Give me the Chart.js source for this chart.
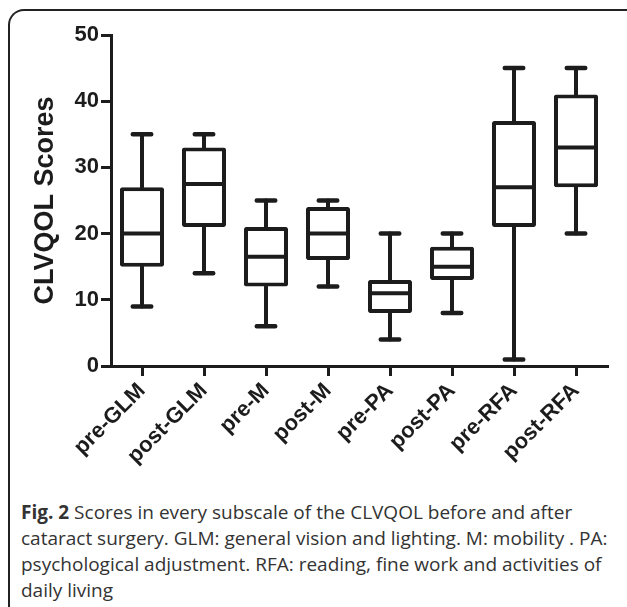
<!DOCTYPE html>
<html>
<head>
<meta charset="utf-8">
<script src="https://cdn.jsdelivr.net/npm/chart.js@4.4.1/dist/chart.umd.min.js"></script>
<style>
  html, body { margin: 0; padding: 0; background: #fff; }
  body { width: 627px; height: 607px; position: relative; overflow: hidden; }
  #frame {
    position: absolute; left: 8px; top: 9px; width: 700px; height: 700px;
    border-top: 2px solid #222; border-left: 2px solid #222;
    border-top-left-radius: 16px;
  }
  #chart1 { position: absolute; left: 0; top: 0; }
  #caption {
    position: absolute; left: 21px; top: 499px;
    font-family: "Open Sans", sans-serif; font-size: 19px; line-height: 26px;
    color: #333; white-space: nowrap;
  }
  #caption b { font-weight: 700; }
</style>
</head>
<body>
<div id="frame"></div>
<canvas id="chart1" width="627" height="480"></canvas>
<div id="caption">
  <b>Fig. 2</b> Scores in every subscale of the CLVQOL before and after<br>
  cataract surgery. GLM: general vision and lighting. M: mobility . PA:<br>
  psychological adjustment. RFA: reading, fine work and activities of<br>
  daily living
</div>
<script>
const categories = ['pre-GLM', 'post-GLM', 'pre-M', 'post-M', 'pre-PA', 'post-PA', 'pre-RFA', 'post-RFA'];
const minValues = [9, 14, 6, 12, 4, 8, 1, 20];
const q1Values = [15, 21, 12, 16, 8, 13, 21, 27];
const medianValues = [20, 27.5, 16.5, 20, 11, 15, 27, 33];
const q3Values = [27, 33, 21, 24, 13, 18, 37, 41];
const maxValues = [35, 35, 25, 25, 20, 20, 45, 45];
const yTicks = [0, 10, 20, 30, 40, 50];

const ink = '#1c1c1c';

// whiskers, caps and medians, drawn on top of the floating bars
const boxExtras = {
    id: 'boxExtras',
    afterDatasetsDraw(chart) {
        const y = chart.scales.y;
        const meta = chart.getDatasetMeta(0);
        const ctx = chart.ctx;
        ctx.save();
        ctx.strokeStyle = ink;
        meta.data.forEach((bar, i) => {
            const x = bar.x;
            const half = bar.width / 2;
            const cap = bar.width * 0.21;
            const yMin = y.getPixelForValue(minValues[i]);
            const yQ1 = y.getPixelForValue(q1Values[i]);
            const yMed = y.getPixelForValue(medianValues[i]);
            const yQ3 = y.getPixelForValue(q3Values[i]);
            const yMax = y.getPixelForValue(maxValues[i]);
            ctx.lineCap = 'round';
            ctx.lineWidth = 4;
            ctx.beginPath();
            ctx.moveTo(x, yQ3); ctx.lineTo(x, yMax);
            ctx.moveTo(x, yQ1); ctx.lineTo(x, yMin);
            ctx.stroke();
            ctx.lineWidth = 4.5;
            ctx.beginPath();
            ctx.moveTo(x - cap, yMax); ctx.lineTo(x + cap, yMax);
            ctx.moveTo(x - cap, yMin); ctx.lineTo(x + cap, yMin);
            ctx.stroke();
            ctx.lineCap = 'butt';
            ctx.lineWidth = 4;
            ctx.beginPath();
            ctx.moveTo(x - half + 2, yMed); ctx.lineTo(x + half - 2, yMed);
            ctx.stroke();
        });
        ctx.restore();
    }
};

const ctx = document.getElementById('chart1');
new Chart(ctx, {
    type: 'bar',
    data: {
        labels: categories,
        datasets: [{
            label: 'CLVQOL Scores',
            data: categories.map((c, i) => [q1Values[i], q3Values[i]]),
            backgroundColor: '#fff',
            borderColor: ink,
            borderWidth: 4,
            borderSkipped: false,
            borderRadius: 2,
            barPercentage: 0.71,
            categoryPercentage: 1
        }]
    },
    options: {
        responsive: false,
        animation: false,
        devicePixelRatio: 1,
        layout: { padding: { top: 35, right: 20, left: 0, bottom: 0 } },
        plugins: {
            legend: { display: false },
            tooltip: { enabled: false }
        },
        scales: {
            x: {
                offset: true,
                grid: { offset: false, drawOnChartArea: false, drawTicks: true, tickLength: 10, lineWidth: 3, color: ink },
                border: { display: true, width: 3, color: ink },
                ticks: {
                    color: ink, autoSkip: false, minRotation: 45, maxRotation: 45, padding: 2,
                    font: { family: 'Liberation Sans', size: 22, weight: 'bold' }
                },
                afterFit: s => { s.height = 114; }
            },
            y: {
                min: 0,
                max: 50,
                afterBuildTicks: s => { s.ticks = yTicks.map(v => ({ value: v })); },
                grid: { drawOnChartArea: false, drawTicks: true, tickLength: 10, lineWidth: 3, color: ink },
                border: { display: true, width: 3, color: ink },
                ticks: {
                    color: ink, padding: 2,
                    font: { family: 'Liberation Sans', size: 22, weight: 'bold' }
                },
                title: {
                    display: true, text: 'CLVQOL Scores', color: ink,
                    font: { family: 'Liberation Sans', size: 27, weight: 'bold', lineHeight: 1 },
                    padding: { top: 32, bottom: 0 }
                },
                afterFit: s => { s.width = 111; }
            }
        }
    },
    plugins: [boxExtras]
});
</script>
</body>
</html>
